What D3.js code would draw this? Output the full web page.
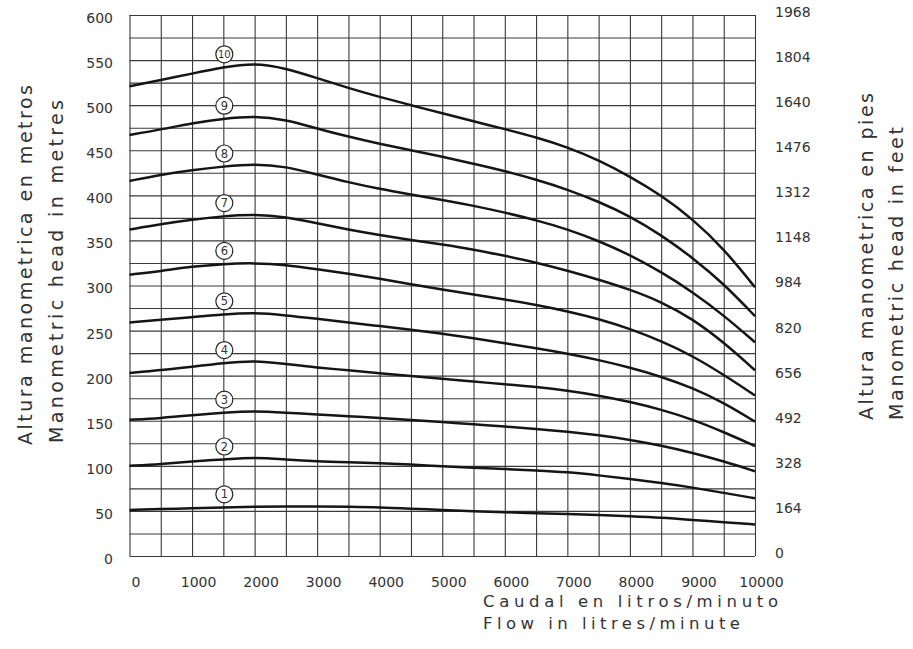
<!DOCTYPE html>
<html>
<head>
<meta charset="utf-8">
<script src="https://cdn.jsdelivr.net/npm/d3@7"></script>
<style>
  body { margin: 0; background: #fff; }
  svg { display: block; }
  text { font-family: "DejaVu Sans", sans-serif; fill: #333; }
</style>
</head>
<body>
<svg id="chart" width="913" height="649"></svg>
<script>
// flow in litres/minute, one reading every 500
const flowLpm = [0, 500, 1000, 1500, 2000, 2500, 3000, 3500, 4000, 4500, 5000,
  5500, 6000, 6500, 7000, 7500, 8000, 8500, 9000, 9500, 10000];

// head in metres for each stage count (curves 1..10)
const head1 = [51, 52, 53, 54, 54.5, 55, 55, 54.5, 54, 52.5, 51, 49.5, 48.5, 47.5, 46.5, 45.5, 44, 42.5, 40, 37.5, 35];
const head2 = [100, 102, 105, 107, 109.5, 107, 105, 104, 103, 101.5, 99.5, 98, 96.5, 95, 93, 89.5, 85.5, 81, 76, 70, 64];
const head3 = [151, 153, 156, 159, 161, 159, 157, 155, 153, 151, 148.5, 146, 143.5, 141, 138, 134, 129, 122.5, 114.5, 105, 94];
const head4 = [203, 206, 210, 214, 217, 213, 209, 206, 202.5, 199.5, 196.5, 193.5, 190.5, 187.5, 183.5, 178, 171, 162.5, 151.5, 137.5, 122];
const head5 = [259, 262, 265, 268, 270, 267, 263, 259, 255, 251, 246.5, 241.5, 236, 230.5, 224.5, 217.5, 209, 199, 186.5, 170, 149];
const head6 = [312, 316, 321, 324, 325, 323, 318, 313, 307.5, 301.5, 295.5, 290, 284.5, 278.5, 271.5, 263, 252, 238.5, 222, 201, 178];
const head7 = [362, 368, 373, 377, 379, 376, 369, 362, 356, 350.5, 345.5, 340, 333, 325.5, 316.5, 306.5, 295.5, 282, 263, 237, 206];
const head8 = [416, 423, 428, 432, 435, 432, 423, 414.5, 407, 401, 395, 388.5, 381, 372.5, 362.5, 349.5, 334, 315, 293, 267, 237];
const head9 = [467, 473, 480, 485, 488, 484, 474, 465, 457, 450, 443, 435, 427, 417.5, 406.5, 393, 377, 356, 331, 302, 266];
const head10 = [521, 528, 535, 542, 547, 541, 530, 519, 509, 500, 491, 482, 473.5, 464.5, 453.5, 439, 421, 400, 374, 341, 298];

const stageLabels = ["1", "2", "3", "4", "5", "6", "7", "8", "9", "10"];
const stageHeads = [head1, head2, head3, head4, head5, head6, head7, head8, head9, head10];
const labelFlow = 1500;

const flowTicks = [0, 1000, 2000, 3000, 4000, 5000, 6000, 7000, 8000, 9000, 10000];
const metreTicks = [0, 50, 100, 150, 200, 250, 300, 350, 400, 450, 500, 550, 600];
const feetTicks = [0, 164, 328, 492, 656, 820, 984, 1148, 1312, 1476, 1640, 1804, 1968];
const gridHead = [0, 25, 50, 75, 100, 125, 150, 175, 200, 225, 250, 275, 300,
  325, 350, 375, 400, 425, 450, 475, 500, 525, 550, 575, 600];

const plotL = 129.5, plotR = 755, plotT = 15, plotB = 556;

const svg = d3.select("#chart");

const x = d3.scaleLinear().domain([0, 10000]).range([plotL, plotR]);
const y = d3.scaleLinear().domain([0, 600]).range([plotB, plotT]);
const yFeet = d3.scaleLinear().domain([0, 1968]).range([plotB, plotT]);

// grid
const gridColor = "#3a3a3a";
svg.append("g")
  .attr("transform", `translate(0,${plotB})`)
  .call(d3.axisBottom(x).tickValues(flowLpm).tickSize(-(plotB - plotT)).tickFormat(""))
  .call(g => g.select(".domain").remove())
  .call(g => g.selectAll("line").attr("stroke", gridColor).attr("stroke-width", 1.1));

svg.append("g")
  .attr("transform", `translate(${plotL},0)`)
  .call(d3.axisLeft(y).tickValues(gridHead).tickSize(-(plotR - plotL)).tickFormat(""))
  .call(g => g.select(".domain").remove())
  .call(g => g.selectAll("line").attr("stroke", gridColor).attr("stroke-width", 1.1));

// tick labels
const tickFont = g => g.attr("font-family", null).attr("font-size", null)
  .call(s => s.select(".domain").remove())
  .call(s => s.selectAll("text").attr("font-size", 14));

svg.append("g")
  .attr("transform", "translate(113,3)")
  .call(d3.axisLeft(y).tickValues(metreTicks).tickSize(0).tickPadding(0))
  .call(tickFont);

svg.append("g")
  .attr("transform", "translate(775,-3)")
  .call(d3.axisRight(yFeet).tickValues(feetTicks).tickSize(0).tickPadding(0).tickFormat(d3.format("d")))
  .call(tickFont);

svg.append("g")
  .attr("transform", "translate(6,577)")
  .call(d3.axisBottom(x).tickValues(flowTicks).tickSize(0).tickPadding(0).tickFormat(d3.format("d")))
  .call(tickFont);

// curves
const line = d3.line()
  .x(d => x(d[0]))
  .y(d => y(d[1]))
  .curve(d3.curveBasis);

const curves = svg.append("g");
stageHeads.forEach(heads => {
  curves.append("path")
    .datum(flowLpm.map((q, i) => [q, heads[i]]))
    .attr("d", line)
    .attr("fill", "none")
    .attr("stroke", "#151515")
    .attr("stroke-width", 2.5)
    .attr("stroke-linejoin", "round");
});

// circled stage numbers
const labelIdx = flowLpm.indexOf(labelFlow);
const marks = svg.append("g");
stageLabels.forEach((lab, i) => {
  const cx = x(labelFlow) + 1;
  const cy = y(stageHeads[i][labelIdx]) - 13;
  marks.append("circle")
    .attr("cx", cx).attr("cy", cy).attr("r", 8.5)
    .attr("fill", "#fff")
    .attr("stroke", "#222")
    .attr("stroke-width", 1.2);
  marks.append("text")
    .attr("x", cx).attr("y", cy)
    .attr("dy", "0.36em")
    .attr("text-anchor", "middle")
    .attr("font-size", lab.length > 1 ? 10 : 11.5)
    .text(lab);
});

// axis titles
const titles = [
  { text: "Altura manometrica en metros", x: 32, y: 265, len: 360 },
  { text: "Manometric head in metres", x: 63, y: 271.5, len: 343 },
  { text: "Altura manometrica en pies", x: 873, y: 256.5, len: 327 },
  { text: "Manometric head in feet", x: 903, y: 273.5, len: 293 }
];
titles.forEach(t => {
  svg.append("text")
    .attr("transform", `translate(${t.x},${t.y}) rotate(-90)`)
    .attr("text-anchor", "middle")
    .attr("font-size", 19)
    .attr("textLength", t.len)
    .attr("lengthAdjust", "spacing")
    .text(t.text);
});

svg.append("text")
  .attr("x", 483).attr("y", 607)
  .attr("font-size", 16.5)
  .attr("textLength", 295)
  .attr("lengthAdjust", "spacing")
  .text("Caudal en litros/minuto");

svg.append("text")
  .attr("x", 483).attr("y", 629)
  .attr("font-size", 16.5)
  .attr("textLength", 257)
  .attr("lengthAdjust", "spacing")
  .text("Flow in litres/minute");
</script>
</body>
</html>
